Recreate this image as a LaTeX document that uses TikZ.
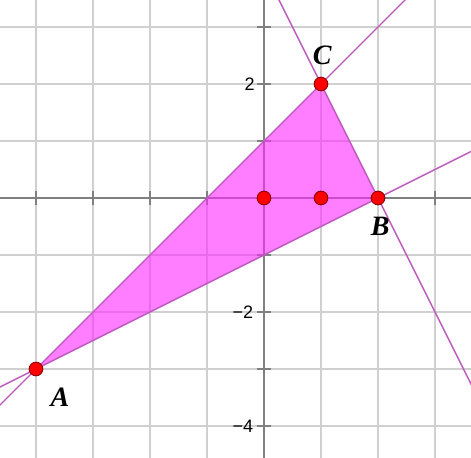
\documentclass[tikz,border=0pt]{standalone}
\usepackage{fontspec}
\setmainfont{Liberation Serif}
\setsansfont{Liberation Sans}
\usetikzlibrary{calc}
\definecolor{gridc}{RGB}{208,208,208}
\definecolor{axisc}{RGB}{128,128,128}
\definecolor{fillc}{RGB}{255,40,255}
\definecolor{linec}{RGB}{190,90,190}
\definecolor{ptc}{RGB}{255,0,0}
\definecolor{ptd}{RGB}{150,0,0}
\tikzset{
  gridline/.style={gridc, line width=1pt},
  axisline/.style={axisc, line width=1pt},
  tickline/.style={axisc, line width=0.6pt},
  pline/.style={linec, line width=0.7pt},
  trifill/.style={fill=fillc, fill opacity=0.6},
  pt/.style={circle, fill=ptc, draw=ptd, line width=0.5pt, inner sep=0pt, minimum size=6.8pt},
  plabel/.style={font=\fontsize{14}{16}\selectfont\bfseries\itshape, inner sep=0pt},
  ticklabel/.style={font=\sffamily\fontsize{9}{10}\selectfont, inner sep=0pt}
}
\begin{document}
\begin{tikzpicture}
\useasboundingbox (-4.6316,-4.5439) rectangle (3.6316,3.4737);
\clip (-4.6316,-4.5439) rectangle (3.6316,3.4737);
\fill[white] (-4.6316,-4.5439) rectangle (3.6316,3.4737);
% grid
\foreach \x in {-4,-3,-2,-1,1,2,3} \draw[gridline] (\x,-4.6) -- (\x,3.5);
\foreach \y in {-4,-3,-2,-1,1,2,3} \draw[gridline] (-4.7,\y) -- (3.7,\y);
% axes
\draw[axisline] (-4.7,0) -- (3.7,0);
\draw[axisline] (0,-4.6) -- (0,3.5);
\foreach \x in {-4,-3,-2,-1,1,2,3} \draw[tickline] (\x,-0.12) -- (\x,0.12);
\foreach \y in {-4,-3,-2,-1,1,2,3} \draw[tickline] (-0.12,\y) -- (0.12,\y);
\node[ticklabel] (t2) at (-0.25,2) {2};
\node[ticklabel] (tm2) at (-0.37,-2) {−2};
\node[ticklabel] (tm4) at (-0.37,-4) {−4};
% points
\coordinate (A) at (-4,-3);
\coordinate (B) at (2,0);
\coordinate (C) at (1,2);
\fill[trifill] (A) -- (B) -- (C) -- cycle;
% lines
\draw[pline] ($(A)!-2!(B)$) -- ($(A)!3!(B)$);
\draw[pline] ($(A)!-2!(C)$) -- ($(A)!3!(C)$);
\draw[pline] ($(B)!-5!(C)$) -- ($(B)!5!(C)$);
\node[pt] (pA) at (A) {};
\node[pt] (pB) at (B) {};
\node[pt] (pC) at (C) {};
\node[pt] (pO) at (0,0) {};
\node[pt] (pD) at (1,0) {};
\node[plabel] (lA) at (-3.58,-3.5) {A};
\node[plabel] (lB) at (2.04,-0.49) {B};
\node[plabel] (lC) at (1.02,2.5) {C};
\end{tikzpicture}
\end{document}
